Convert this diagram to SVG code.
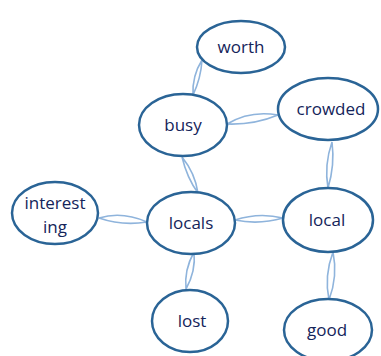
<svg xmlns="http://www.w3.org/2000/svg" width="381" height="356" viewBox="0 0 381 356">
<style>
.n{fill:#fff;stroke:#2a6496;stroke-width:2.5}
.t{font-family:"Open Sans","Liberation Sans",sans-serif;font-size:17px;fill:#14245a;text-anchor:middle}
.c{fill:none;stroke:#8fb4dc;stroke-width:1.6}
</style>
<rect width="381" height="356" fill="#fff"/>
<g id="connectors">
<path class="c" d="M202,60 Q192,76 193,95 Q201,78 202,60"/>
<path class="c" d="M227,124 Q250,110 278,115 Q254,125 227,124"/>
<path class="c" d="M332,142 Q324,165 328,188 Q335,165 332,142"/>
<path class="c" d="M182,157 Q187,178 198,193 Q195,173 182,157"/>
<path class="c" d="M99,218 Q122,211 147,222 Q122,226 99,218"/>
<path class="c" d="M235,220 Q259,212 283,218 Q259,225 235,220"/>
<path class="c" d="M194,252 Q184,270 186,289 Q196,271 194,252"/>
<path class="c" d="M333,252 Q324,276 329,300 Q338,276 333,252"/>
</g>
<g id="worth"><ellipse class="n" cx="241" cy="47" rx="44" ry="26"/><text class="t" x="241" y="53">worth</text></g>
<g id="busy"><ellipse class="n" cx="183" cy="125" rx="44" ry="31"/><text class="t" x="183" y="131">busy</text></g>
<g id="crowded"><ellipse class="n" cx="328" cy="109" rx="50" ry="31"/><text class="t" x="331" y="115">crowded</text></g>
<g id="interesting"><ellipse class="n" cx="55" cy="213" rx="43" ry="31"/><text class="t" x="55" y="209">interest</text><text class="t" x="55" y="233">ing</text></g>
<g id="locals"><ellipse class="n" cx="191" cy="223" rx="44" ry="31"/><text class="t" x="191" y="229">locals</text></g>
<g id="local"><ellipse class="n" cx="328" cy="220" rx="45" ry="32"/><text class="t" x="327" y="226">local</text></g>
<g id="lost"><ellipse class="n" cx="190" cy="321" rx="38" ry="31"/><text class="t" x="192" y="327">lost</text></g>
<g id="good"><ellipse class="n" cx="328" cy="330" rx="44" ry="31"/><text class="t" x="327" y="336">good</text></g>
</svg>
